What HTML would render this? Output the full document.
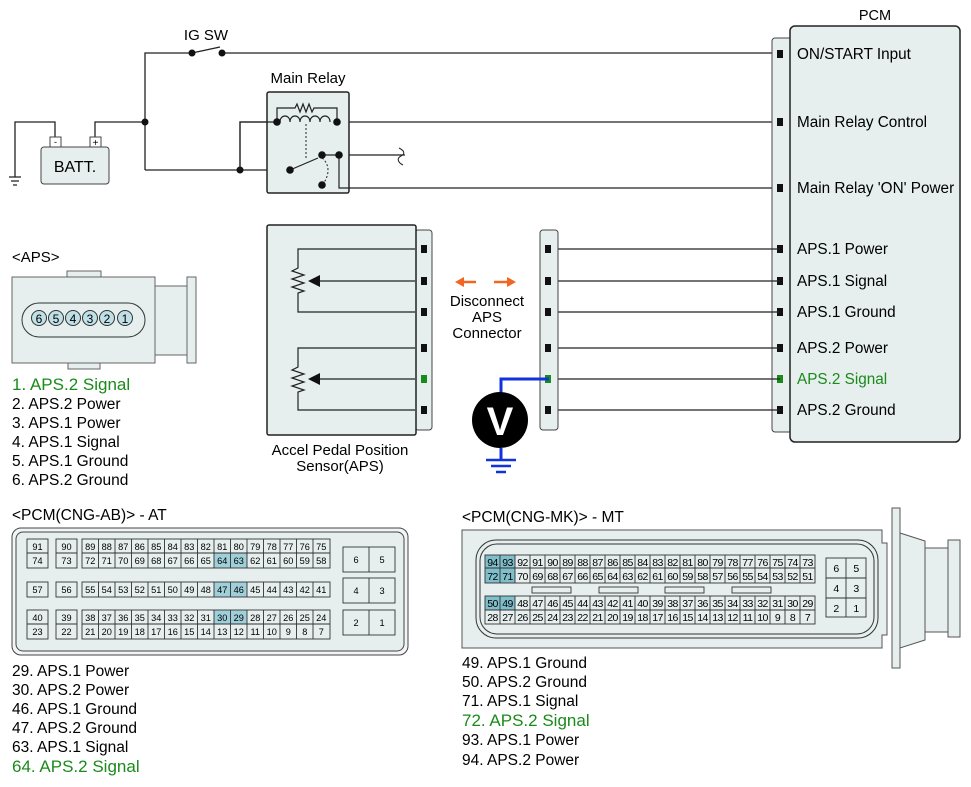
<!DOCTYPE html>
<html><head><meta charset="utf-8"><style>
html,body{margin:0;padding:0;background:#fff}
svg{display:block;font-family:"Liberation Sans",sans-serif}
</style></head><body>
<svg width="971" height="787" viewBox="0 0 971 787" xmlns="http://www.w3.org/2000/svg">
<g fill="none" stroke="#222" stroke-width="1.3">
<path d="M145 170V53H192M222 53H780"/>
<path d="M192 53L220 47"/>
<path d="M95 137V122H145M55 137V122H15V177"/>
<path d="M145 170H290M240 170V122H277M337 122H780"/>
<path d="M277 122V108H337V122"/>
<path d="M322 155H405M339 155V188H780"/>
<path d="M290 170L320 157"/>
<path d="M399 148c6 3 6 6 2 8s-4 6 2 9" stroke-width="1"/>
</g>
<g stroke="#222" stroke-width="1.2"><path d="M9 177H21M11 181H19M13 185H17"/></g>
<text x="206" y="40" font-size="15" text-anchor="middle">IG SW</text>
<g fill="#111"><circle cx="192" cy="53" r="3.5"/><circle cx="222" cy="53" r="3.5"/><circle cx="145" cy="122" r="3.5"/><circle cx="240" cy="170" r="3.5"/></g>
<rect x="41" y="147" width="68" height="37" rx="3" fill="#e6eeee" stroke="#444"/>
<rect x="50" y="137" width="11" height="10" fill="#fff" stroke="#444"/>
<rect x="90" y="137" width="11" height="10" fill="#fff" stroke="#444"/>
<text x="55.5" y="145" font-size="9" text-anchor="middle">-</text>
<text x="95.5" y="146" font-size="10" text-anchor="middle">+</text>
<text x="75" y="172" font-size="16" text-anchor="middle">BATT.</text>
<text x="308" y="83" font-size="15" text-anchor="middle">Main Relay</text>
<rect x="267" y="92" width="82" height="101" rx="2" fill="#e6eeee" stroke="#222" stroke-width="1.5"/>
<g fill="none" stroke="#222" stroke-width="1.2">
<path d="M277 122V108H295l2-4 3 8 3-8 3 8 3-8 3 8 2-4H337V122"/>
<path d="M280 122c0-8 10-8 10 0c0-8 10-8 10 0c0-8 10-8 10 0c0-8 10-8 10 0c0-8 10-8 10 0"/>
<path d="M306 124V160" stroke-dasharray="2 2" stroke-width="1"/>
<path d="M322 158c8 6 8 18 0 27" stroke-dasharray="2 2" stroke-width="1"/>
<path d="M277 122H240V170M290 170L318 158M322 155H339M339 155V188H349"/>
</g>
<g fill="#111"><circle cx="277" cy="122" r="3.8"/><circle cx="337" cy="122" r="3.8"/><circle cx="290" cy="170" r="3.8"/><circle cx="322" cy="155" r="3.8"/><circle cx="339" cy="155" r="3.8"/><circle cx="322" cy="185" r="3.8"/></g>
<text x="875" y="20" font-size="14.5" text-anchor="middle">PCM</text>
<rect x="772" y="38" width="22" height="394" rx="3" fill="#e6eeee" stroke="#444"/>
<rect x="790" y="26" width="170" height="416" rx="5" fill="#e6eeee" stroke="#222" stroke-width="1.5"/>
<g fill="#111">
<rect x="777" y="50" width="6" height="8"/><rect x="777" y="118" width="6" height="8"/><rect x="777" y="184" width="6" height="8"/>
<rect x="777" y="245" width="6" height="8"/><rect x="777" y="277" width="6" height="8"/><rect x="777" y="308" width="6" height="8"/>
<rect x="777" y="344" width="6" height="8"/><rect x="777" y="375" width="6" height="8" fill="#1a8a1a"/><rect x="777" y="406" width="6" height="8"/>
</g>
<g font-size="15.3">
<text x="797" y="59">ON/START Input</text>
<text x="797" y="127">Main Relay Control</text>
<text x="797" y="193">Main Relay 'ON' Power</text>
<text x="797" y="254">APS.1 Power</text>
<text x="797" y="286">APS.1 Signal</text>
<text x="797" y="317">APS.1 Ground</text>
<text x="797" y="353">APS.2 Power</text>
<text x="797" y="384" fill="#1a8a1a">APS.2 Signal</text>
<text x="797" y="415">APS.2 Ground</text>
</g>
<g stroke="#222" stroke-width="1.2"><path d="M549 249H780M549 281H780M549 312H780M549 348H780M549 379H780M549 410H780"/></g>
<rect x="540" y="230" width="18" height="200" rx="3" fill="#e6eeee" stroke="#444"/>
<g fill="#111"><rect x="545" y="245" width="6" height="8"/><rect x="545" y="277" width="6" height="8"/><rect x="545" y="308" width="6" height="8"/><rect x="545" y="344" width="6" height="8"/><rect x="545" y="375" width="6" height="8" fill="#1a8a1a"/><rect x="545" y="406" width="6" height="8"/></g>
<g stroke="#f26522" stroke-width="2.5" fill="#f26522"><path d="M462 282H476M494 282H508"/></g>
<path d="M455 282L464 277V287Z M516 282L507 277V287Z" fill="#f26522"/>
<g font-size="15" text-anchor="middle"><text x="487" y="306">Disconnect</text><text x="487" y="322">APS</text><text x="487" y="338">Connector</text></g>
<path d="M549 379H501V395M501 448V460" stroke="#1133dd" stroke-width="3" fill="none"/>
<g stroke="#1133dd" stroke-width="2.5"><path d="M486 460H516M491 466H511M496 472H506"/></g>
<circle cx="500" cy="420" r="28" fill="#000"/>
<text x="500" y="435" font-size="40" font-weight="bold" fill="#fff" text-anchor="middle">V</text>
<rect x="415" y="230" width="17" height="200" rx="3" fill="#e6eeee" stroke="#444"/>
<rect x="267" y="225" width="149" height="210" rx="2" fill="#e6eeee" stroke="#222" stroke-width="1.5"/>
<g fill="none" stroke="#222" stroke-width="1.2">
<path d="M415 249H298V268l-6 3 12 4-12 4 12 4-12 4 12 4-6 2V312H415"/>
<path d="M415 281H318"/>
<path d="M415 348H298V367l-6 3 12 4-12 4 12 4-12 4 12 4-6 2V410H415"/>
<path d="M415 379H318"/>
</g>
<path d="M308 281L320 275V287Z M308 379L320 373V385Z" fill="#111"/>
<g fill="#111"><rect x="421" y="245" width="6" height="8"/><rect x="421" y="277" width="6" height="8"/><rect x="421" y="308" width="6" height="8"/><rect x="421" y="344" width="6" height="8"/><rect x="421" y="375" width="6" height="8" fill="#1a8a1a"/><rect x="421" y="406" width="6" height="8"/></g>
<g font-size="15" text-anchor="middle"><text x="340" y="455">Accel Pedal Position</text><text x="340" y="471">Sensor(APS)</text></g>
<text x="12" y="262" font-size="15">&lt;APS&gt;</text>
<g fill="#e6eeee" stroke="#666" stroke-width="1">
<rect x="67" y="271" width="34" height="8"/><rect x="68" y="361" width="32" height="8"/>
<rect x="155" y="286" width="35" height="69"/>
<rect x="187" y="277" width="9" height="86"/>
<rect x="12" y="277" width="143" height="86"/>
<rect x="22" y="303" width="123" height="34" rx="17" stroke="#333"/>
</g>
<g fill="#bfe0e6" stroke="#333" stroke-width="1"><circle cx="39" cy="318" r="7.5"/><circle cx="56" cy="318" r="7.5"/><circle cx="73" cy="318" r="7.5"/><circle cx="90" cy="318" r="7.5"/><circle cx="107" cy="318" r="7.5"/><circle cx="125" cy="318" r="7.5"/></g>
<g font-size="12" text-anchor="middle"><text x="39" y="323">6</text><text x="56" y="323">5</text><text x="73" y="323">4</text><text x="90" y="323">3</text><text x="107" y="323">2</text><text x="125" y="323">1</text></g>
<g font-size="15.5">
<text x="12" y="390" fill="#1a8a1a" font-size="17">1. APS.2 Signal</text>
<text x="12" y="409">2. APS.2 Power</text>
<text x="12" y="428">3. APS.1 Power</text>
<text x="12" y="447">4. APS.1 Signal</text>
<text x="12" y="466">5. APS.1 Ground</text>
<text x="12" y="485">6. APS.2 Ground</text>
</g>
<text x="12" y="520" font-size="15.5">&lt;PCM(CNG-AB)&gt; - AT</text>
<rect x="12" y="528" width="396" height="127" rx="9" fill="#f2f5f5" stroke="#444"/>
<rect x="16" y="532" width="388" height="119" rx="7" fill="#e6eeee" stroke="#444"/>
<g fill="#9fcfd8"><rect x="214" y="553" width="33" height="15"/><rect x="214" y="582" width="33" height="15"/><rect x="214" y="610" width="33" height="14"/></g>
<g fill="none" stroke="#333" stroke-width="0.9">
<rect x="27" y="539" width="21" height="29"/><path d="M27 553H48"/>
<rect x="56" y="539" width="21" height="29"/><path d="M56 553H77"/>
<rect x="82" y="539" width="248" height="29"/><path d="M82 553H330"/>
<rect x="27" y="582" width="21" height="15"/><rect x="56" y="582" width="21" height="15"/><rect x="82" y="582" width="248" height="15"/>
<rect x="27" y="610" width="21" height="29"/><path d="M27 624H48"/>
<rect x="56" y="610" width="21" height="29"/><path d="M56 624H77"/>
<rect x="82" y="610" width="248" height="29"/><path d="M82 624H330"/>
<path d="M98.5 539V568M115 539V568M131.5 539V568M148 539V568M164.5 539V568M181 539V568M197.5 539V568M214 539V568M230.5 539V568M247 539V568M263.5 539V568M280 539V568M296.5 539V568M313 539V568"/>
<path d="M98.5 582V597M115 582V597M131.5 582V597M148 582V597M164.5 582V597M181 582V597M197.5 582V597M214 582V597M230.5 582V597M247 582V597M263.5 582V597M280 582V597M296.5 582V597M313 582V597"/>
<path d="M98.5 610V639M115 610V639M131.5 610V639M148 610V639M164.5 610V639M181 610V639M197.5 610V639M214 610V639M230.5 610V639M247 610V639M263.5 610V639M280 610V639M296.5 610V639M313 610V639"/>
<rect x="343" y="547" width="52" height="25"/><path d="M369 547V572"/>
<rect x="343" y="578" width="52" height="25"/><path d="M369 578V603"/>
<rect x="343" y="610" width="52" height="25"/><path d="M369 610V635"/>
</g>
<g font-size="9.2" text-anchor="middle">
<text x="37.5" y="550">91</text><text x="37.5" y="564">74</text><text x="66.5" y="550">90</text><text x="66.5" y="564">73</text>
<text x="37.5" y="593">57</text><text x="66.5" y="593">56</text>
<text x="37.5" y="621">40</text><text x="37.5" y="635">23</text><text x="66.5" y="621">39</text><text x="66.5" y="635">22</text>
<text x="356" y="563">6</text><text x="382" y="563">5</text><text x="356" y="594">4</text><text x="382" y="594">3</text><text x="356" y="626">2</text><text x="382" y="626">1</text>
<text x="90.25" y="550">89</text><text x="106.75" y="550">88</text><text x="123.25" y="550">87</text><text x="139.75" y="550">86</text><text x="156.25" y="550">85</text><text x="172.75" y="550">84</text><text x="189.25" y="550">83</text><text x="205.75" y="550">82</text><text x="222.25" y="550">81</text><text x="238.75" y="550">80</text><text x="255.25" y="550">79</text><text x="271.75" y="550">78</text><text x="288.25" y="550">77</text><text x="304.75" y="550">76</text><text x="321.25" y="550">75</text>
<text x="90.25" y="564">72</text><text x="106.75" y="564">71</text><text x="123.25" y="564">70</text><text x="139.75" y="564">69</text><text x="156.25" y="564">68</text><text x="172.75" y="564">67</text><text x="189.25" y="564">66</text><text x="205.75" y="564">65</text><text x="222.25" y="564">64</text><text x="238.75" y="564">63</text><text x="255.25" y="564">62</text><text x="271.75" y="564">61</text><text x="288.25" y="564">60</text><text x="304.75" y="564">59</text><text x="321.25" y="564">58</text>
<text x="90.25" y="593">55</text><text x="106.75" y="593">54</text><text x="123.25" y="593">53</text><text x="139.75" y="593">52</text><text x="156.25" y="593">51</text><text x="172.75" y="593">50</text><text x="189.25" y="593">49</text><text x="205.75" y="593">48</text><text x="222.25" y="593">47</text><text x="238.75" y="593">46</text><text x="255.25" y="593">45</text><text x="271.75" y="593">44</text><text x="288.25" y="593">43</text><text x="304.75" y="593">42</text><text x="321.25" y="593">41</text>
<text x="90.25" y="621">38</text><text x="106.75" y="621">37</text><text x="123.25" y="621">36</text><text x="139.75" y="621">35</text><text x="156.25" y="621">34</text><text x="172.75" y="621">33</text><text x="189.25" y="621">32</text><text x="205.75" y="621">31</text><text x="222.25" y="621">30</text><text x="238.75" y="621">29</text><text x="255.25" y="621">28</text><text x="271.75" y="621">27</text><text x="288.25" y="621">26</text><text x="304.75" y="621">25</text><text x="321.25" y="621">24</text>
<text x="90.25" y="635">21</text><text x="106.75" y="635">20</text><text x="123.25" y="635">19</text><text x="139.75" y="635">18</text><text x="156.25" y="635">17</text><text x="172.75" y="635">16</text><text x="189.25" y="635">15</text><text x="205.75" y="635">14</text><text x="222.25" y="635">13</text><text x="238.75" y="635">12</text><text x="255.25" y="635">11</text><text x="271.75" y="635">10</text><text x="288.25" y="635">9</text><text x="304.75" y="635">8</text><text x="321.25" y="635">7</text>
</g>
<g font-size="15.5">
<text x="12" y="676">29. APS.1 Power</text>
<text x="12" y="695">30. APS.2 Power</text>
<text x="12" y="714">46. APS.1 Ground</text>
<text x="12" y="733">47. APS.2 Ground</text>
<text x="12" y="752">63. APS.1 Signal</text>
<text x="12" y="772" fill="#1a8a1a" font-size="17">64. APS.2 Signal</text>
</g>
<text x="462" y="522" font-size="15.5">&lt;PCM(CNG-MK)&gt; - MT</text>
<g fill="#e6eeee" stroke="#555" stroke-width="1">
<path d="M462 530H882V543H887V635H882V648H462Z"/>
<path d="M900 533L925 541V640L900 648Z"/>
<rect x="925" y="548" width="25" height="84"/>
<rect x="948" y="540" width="12" height="97"/>
<rect x="892" y="508" width="8" height="160"/>
</g>
<rect x="476" y="540" width="402" height="98" rx="20" fill="#e6eeee" stroke="#333"/>
<rect x="480" y="544" width="394" height="90" rx="17" fill="none" stroke="#333"/>
<g fill="#7fbecb"><rect x="485" y="555" width="30" height="28"/><rect x="485" y="596" width="30" height="14"/></g>
<g fill="none" stroke="#333" stroke-width="0.9">
<rect x="485" y="555" width="330" height="28"/><path d="M485 568H815"/>
<rect x="485" y="596" width="330" height="28"/><path d="M485 610H815"/>
<path d="M500 555V583M515 555V583M530 555V583M545 555V583M560 555V583M575 555V583M590 555V583M605 555V583M620 555V583M635 555V583M650 555V583M665 555V583M680 555V583M695 555V583M710 555V583M725 555V583M740 555V583M755 555V583M770 555V583M785 555V583M800 555V583"/>
<path d="M500 596V624M515 596V624M530 596V624M545 596V624M560 596V624M575 596V624M590 596V624M605 596V624M620 596V624M635 596V624M650 596V624M665 596V624M680 596V624M695 596V624M710 596V624M725 596V624M740 596V624M755 596V624M770 596V624M785 596V624M800 596V624"/>
<rect x="532" y="587" width="39" height="6"/><rect x="599" y="587" width="39" height="6"/><rect x="665" y="587" width="39" height="6"/><rect x="732" y="587" width="39" height="6"/>
<rect x="826" y="558" width="40" height="59"/><path d="M846 558V617M826 578H866M826 598H866"/>
</g>
<g font-size="10.5" text-anchor="middle" letter-spacing="-0.6">
<text x="492.5" y="566">94</text><text x="507.5" y="566">93</text><text x="522.5" y="566">92</text><text x="537.5" y="566">91</text><text x="552.5" y="566">90</text><text x="567.5" y="566">89</text><text x="582.5" y="566">88</text><text x="597.5" y="566">87</text><text x="612.5" y="566">86</text><text x="627.5" y="566">85</text><text x="642.5" y="566">84</text><text x="657.5" y="566">83</text><text x="672.5" y="566">82</text><text x="687.5" y="566">81</text><text x="702.5" y="566">80</text><text x="717.5" y="566">79</text><text x="732.5" y="566">78</text><text x="747.5" y="566">77</text><text x="762.5" y="566">76</text><text x="777.5" y="566">75</text><text x="792.5" y="566">74</text><text x="807.5" y="566">73</text>
<text x="492.5" y="580">72</text><text x="507.5" y="580">71</text><text x="522.5" y="580">70</text><text x="537.5" y="580">69</text><text x="552.5" y="580">68</text><text x="567.5" y="580">67</text><text x="582.5" y="580">66</text><text x="597.5" y="580">65</text><text x="612.5" y="580">64</text><text x="627.5" y="580">63</text><text x="642.5" y="580">62</text><text x="657.5" y="580">61</text><text x="672.5" y="580">60</text><text x="687.5" y="580">59</text><text x="702.5" y="580">58</text><text x="717.5" y="580">57</text><text x="732.5" y="580">56</text><text x="747.5" y="580">55</text><text x="762.5" y="580">54</text><text x="777.5" y="580">53</text><text x="792.5" y="580">52</text><text x="807.5" y="580">51</text>
<text x="492.5" y="607">50</text><text x="507.5" y="607">49</text><text x="522.5" y="607">48</text><text x="537.5" y="607">47</text><text x="552.5" y="607">46</text><text x="567.5" y="607">45</text><text x="582.5" y="607">44</text><text x="597.5" y="607">43</text><text x="612.5" y="607">42</text><text x="627.5" y="607">41</text><text x="642.5" y="607">40</text><text x="657.5" y="607">39</text><text x="672.5" y="607">38</text><text x="687.5" y="607">37</text><text x="702.5" y="607">36</text><text x="717.5" y="607">35</text><text x="732.5" y="607">34</text><text x="747.5" y="607">33</text><text x="762.5" y="607">32</text><text x="777.5" y="607">31</text><text x="792.5" y="607">30</text><text x="807.5" y="607">29</text>
<text x="492.5" y="621">28</text><text x="507.5" y="621">27</text><text x="522.5" y="621">26</text><text x="537.5" y="621">25</text><text x="552.5" y="621">24</text><text x="567.5" y="621">23</text><text x="582.5" y="621">22</text><text x="597.5" y="621">21</text><text x="612.5" y="621">20</text><text x="627.5" y="621">19</text><text x="642.5" y="621">18</text><text x="657.5" y="621">17</text><text x="672.5" y="621">16</text><text x="687.5" y="621">15</text><text x="702.5" y="621">14</text><text x="717.5" y="621">13</text><text x="732.5" y="621">12</text><text x="747.5" y="621">11</text><text x="762.5" y="621">10</text><text x="777.5" y="621">9</text><text x="792.5" y="621">8</text><text x="807.5" y="621">7</text>
<text x="836" y="572">6</text><text x="856" y="572">5</text><text x="836" y="592">4</text><text x="856" y="592">3</text><text x="836" y="612">2</text><text x="856" y="612">1</text>
</g>
<g font-size="15.5">
<text x="462" y="668">49. APS.1 Ground</text>
<text x="462" y="687">50. APS.2 Ground</text>
<text x="462" y="706">71. APS.1 Signal</text>
<text x="462" y="726" fill="#1a8a1a" font-size="17">72. APS.2 Signal</text>
<text x="462" y="745">93. APS.1 Power</text>
<text x="462" y="765">94. APS.2 Power</text>
</g>
</svg>
</body></html>
